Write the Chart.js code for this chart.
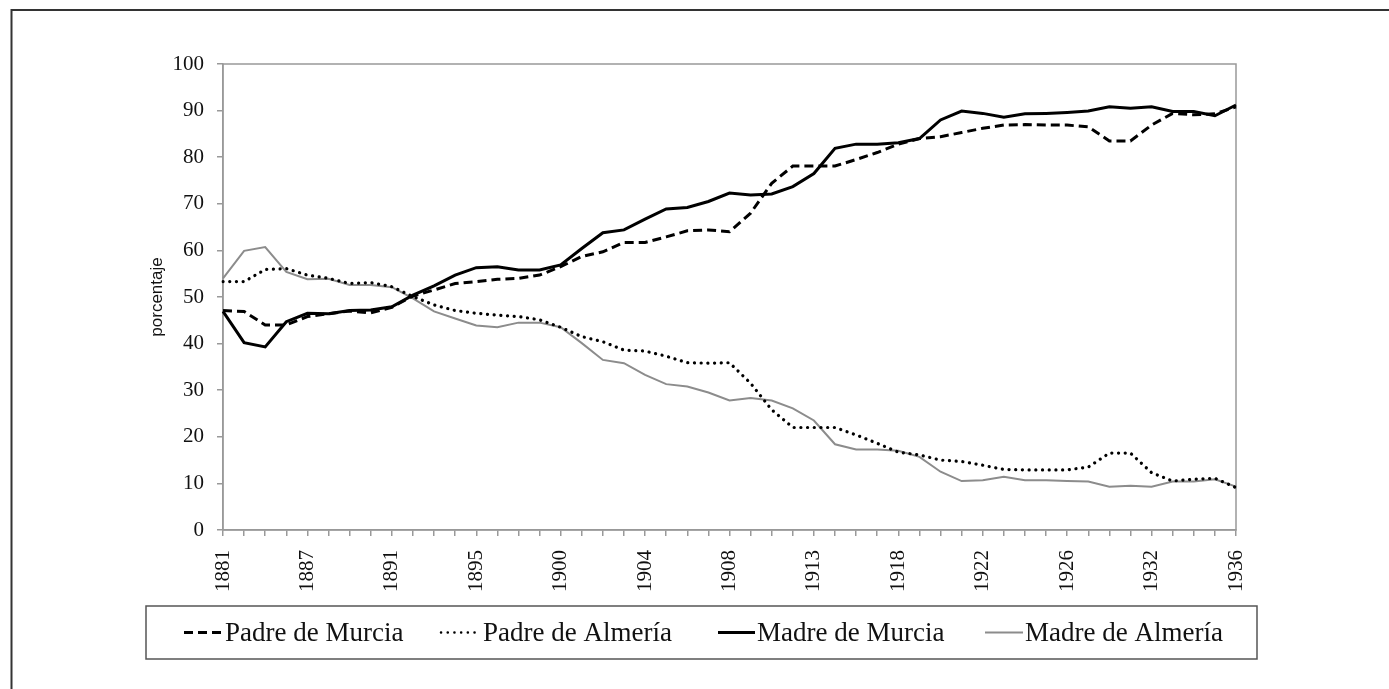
<!DOCTYPE html>
<html>
<head>
<meta charset="utf-8">
<script src="https://cdn.jsdelivr.net/npm/chart.js@4.4.0/dist/chart.umd.min.js"></script>
<style>
  html, body { margin: 0; padding: 0; background: #fff; }
  canvas { display: block; }
</style>
</head>
<body>
<canvas id="chart" width="1389" height="689"></canvas>
<script>
// tick labels shown every 4th category
var yearLabels = ['1881', '1887', '1891', '1895', '1900', '1904', '1908', '1913', '1918', '1922', '1926', '1932', '1936'];
var nCategories = 49;

var padreMurcia = [47.1, 46.9, 44.0, 44.0, 45.8, 46.4, 47.0, 46.6, 47.8, 50.2, 51.5, 52.9, 53.3, 53.8, 54.0, 54.7,
  56.5, 58.7, 59.7, 61.7, 61.7, 62.9, 64.2, 64.4, 64.0, 68.0, 74.4, 78.1, 78.1, 78.1, 79.5, 81.0,
  82.8, 84.0, 84.4, 85.3, 86.2, 86.9, 87.0, 86.9, 86.9, 86.5, 83.5, 83.5, 86.9, 89.4, 89.1, 89.3, 90.8];

var padreAlmeria = [53.3, 53.3, 55.9, 56.1, 54.7, 54.0, 52.9, 53.1, 52.2, 50.1, 48.3, 47.1, 46.5, 46.1, 45.8, 45.1,
  43.5, 41.5, 40.4, 38.6, 38.4, 37.3, 35.9, 35.8, 35.9, 31.5, 25.8, 22.0, 22.0, 22.0, 20.4, 18.6,
  16.7, 16.1, 15.0, 14.7, 13.9, 13.0, 12.9, 12.9, 12.9, 13.5, 16.5, 16.5, 12.3, 10.5, 10.9, 11.1, 9.1];

var madreMurcia = [46.9, 40.2, 39.3, 44.7, 46.5, 46.4, 47.1, 47.2, 47.9, 50.4, 52.4, 54.7, 56.3, 56.5, 55.8, 55.8,
  56.9, 60.4, 63.8, 64.4, 66.7, 68.9, 69.2, 70.5, 72.3, 71.9, 72.1, 73.7, 76.5, 81.9, 82.8, 82.8,
  83.1, 84.0, 88.0, 89.9, 89.4, 88.6, 89.3, 89.4, 89.6, 89.9, 90.8, 90.5, 90.8, 89.8, 89.8, 88.9, 91.2];

var madreAlmeria = [54.0, 59.9, 60.7, 55.4, 53.8, 53.9, 52.6, 52.6, 52.1, 49.7, 46.9, 45.4, 43.9, 43.5, 44.5, 44.5,
  43.5, 40.1, 36.5, 35.8, 33.3, 31.3, 30.8, 29.5, 27.8, 28.3, 27.8, 26.1, 23.5, 18.4, 17.3, 17.3,
  17.0, 15.7, 12.5, 10.5, 10.7, 11.4, 10.7, 10.7, 10.5, 10.4, 9.3, 9.5, 9.3, 10.4, 10.4, 10.9, 9.3];

var categories = [];
for (var i = 0; i < nCategories; i++) {
  categories.push(i % 4 === 0 ? yearLabels[i / 4] : '');
}

var axisGray = '#999999';
var serif = 'Liberation Serif';

// white page, outer frame (left + top) and the plot border
var framePlugin = {
  id: 'frame',
  beforeDraw: function(chart) {
    var c = chart.ctx;
    c.save();
    c.fillStyle = '#fff';
    c.fillRect(0, 0, chart.width, chart.height);
    c.strokeStyle = '#333';
    c.lineWidth = 2;
    c.beginPath();
    c.moveTo(11.5, chart.height);
    c.lineTo(11.5, 10);
    c.lineTo(chart.width, 10);
    c.stroke();
    c.restore();
  },
  beforeDatasetsDraw: function(chart) {
    var a = chart.chartArea, c = chart.ctx;
    c.save();
    c.strokeStyle = axisGray;
    c.lineWidth = 1.5;
    c.strokeRect(a.left, a.top, a.right - a.left, a.bottom - a.top);
    c.restore();
  }
};

// boxed legend under the axis, like the spreadsheet one
var legendSpots = [
  { from: 184, to: 222, text: 225 },
  { from: 441, to: 481, text: 483 },
  { from: 718, to: 755, text: 757 },
  { from: 985, to: 1023, text: 1025 }
];
var boxLegend = {
  id: 'boxLegend',
  afterDraw: function(chart) {
    var c = chart.ctx;
    var top = 606, h = 53, mid = top + h / 2;
    c.save();
    c.strokeStyle = '#555';
    c.lineWidth = 1.5;
    c.strokeRect(146, top, 1111, h);
    chart.data.datasets.forEach(function(ds, k) {
      var s = legendSpots[k];
      c.save();
      c.strokeStyle = ds.borderColor;
      c.lineWidth = ds.legendWidth || ds.borderWidth;
      c.lineCap = ds.borderCapStyle || 'butt';
      c.setLineDash(ds.borderDash || []);
      c.beginPath();
      c.moveTo(s.from, mid);
      c.lineTo(s.to, mid);
      c.stroke();
      c.restore();
      c.fillStyle = '#111';
      c.font = '27px "' + serif + '"';
      c.textBaseline = 'middle';
      c.fillText(ds.label, s.text, mid + 1);
    });
    c.restore();
  }
};

var ctx = document.getElementById('chart').getContext('2d');
var chart = new Chart(ctx, {
  type: 'line',
  data: {
    labels: categories,
    datasets: [
      {
        label: 'Padre de Murcia',
        data: padreMurcia,
        borderColor: '#000',
        borderWidth: 3,
        borderDash: [9, 5]
      },
      {
        label: 'Padre de Almería',
        data: padreAlmeria,
        borderColor: '#000',
        borderWidth: 3.2,
        legendWidth: 2.5,
        borderDash: [0.1, 6.6],
        borderCapStyle: 'round'
      },
      {
        label: 'Madre de Murcia',
        data: madreMurcia,
        borderColor: '#000',
        borderWidth: 3
      },
      {
        label: 'Madre de Almería',
        data: madreAlmeria,
        borderColor: '#8c8c8c',
        borderWidth: 2
      }
    ]
  },
  options: {
    responsive: false,
    animation: false,
    layout: { padding: { left: 140, top: 64, right: 153, bottom: 89 } },
    elements: {
      point: { radius: 0 },
      line: { tension: 0, fill: false }
    },
    plugins: {
      legend: { display: false },
      tooltip: { enabled: false }
    },
    scales: {
      x: {
        type: 'category',
        offset: false,
        grid: { drawOnChartArea: false, drawTicks: true, tickLength: 6, color: axisGray, lineWidth: 1.5 },
        border: { color: axisGray, width: 1.5 },
        ticks: {
          autoSkip: false,
          maxRotation: 90,
          minRotation: 90,
          padding: 14,
          color: '#111',
          font: { family: serif, size: 21 }
        },
        afterFit: function(scale) { scale.height = 70; }
      },
      y: {
        min: 0,
        max: 100,
        grid: { drawOnChartArea: false, drawTicks: true, tickLength: 6, color: axisGray, lineWidth: 1.5 },
        border: { color: axisGray, width: 1.5 },
        ticks: {
          stepSize: 10,
          padding: 13,
          color: '#111',
          font: { family: serif, size: 21 }
        },
        title: {
          display: true,
          text: 'porcentaje',
          color: '#111',
          padding: { top: 7, bottom: 0 },
          font: { family: 'Liberation Sans', size: 17 }
        },
        afterFit: function(scale) { scale.width = 83; }
      }
    }
  },
  plugins: [framePlugin, boxLegend]
});
</script>
</body>
</html>
